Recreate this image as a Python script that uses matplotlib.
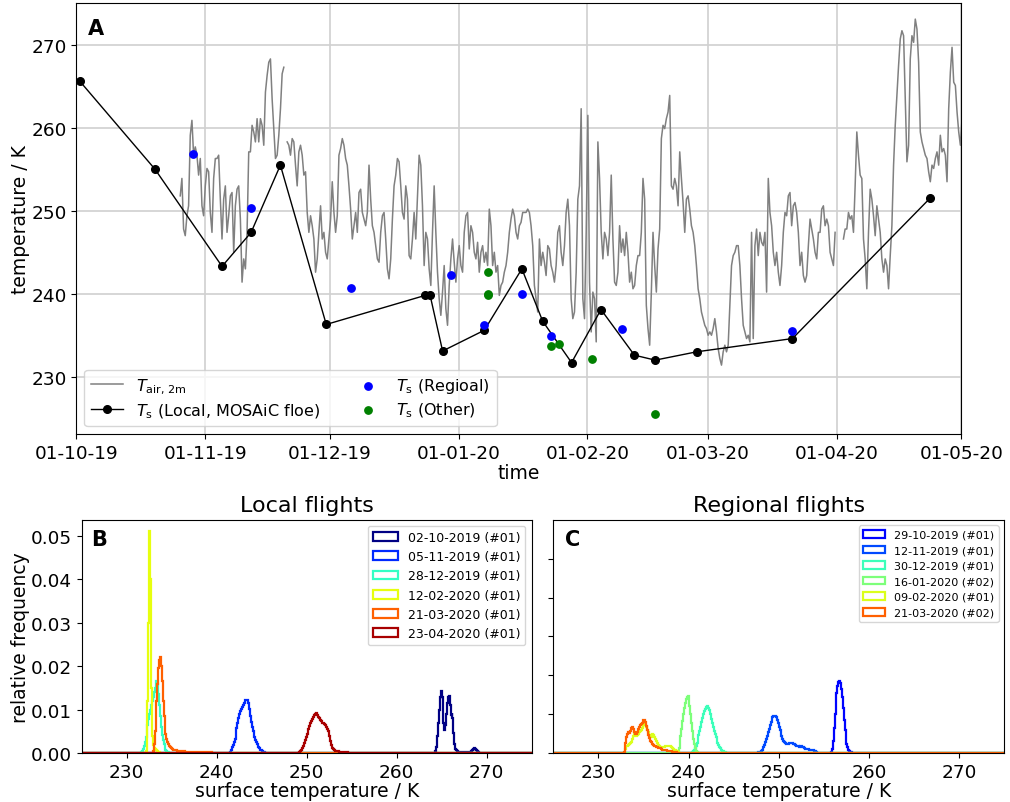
import numpy as np
import pandas as pd
import matplotlib
matplotlib.use("Agg")
import matplotlib.pyplot as plt
import matplotlib.dates as mdates

# ---------------- Panel A data ----------------
# 2 m air temperature, regular sampling starting at tair_start with step tair_step_hours
tair_start = "2019-10-25 23:30"
tair_step_hours = 9.65
tair_values = [
    251.8, 253.9, 247.8, 247.0, 249.4, 250.6, 259.1, 260.9, 256.7, 257.7,
    256.7, 254.3, 256.3, 250.6, 249.4, 253.0, 255.1, 254.7, 249.8, 247.4,
    253.9, 256.3, 256.3, 256.7, 251.4, 246.6, 251.4, 253.0, 247.4, 249.4,
    251.8, 252.2, 245.0, 250.6, 252.6, 253.0, 249.0, 241.4, 244.2, 243.0,
    247.4, 257.1, 257.1, 260.3, 259.5, 258.3, 261.1, 258.3, 261.1, 260.3,
    257.9, 264.3, 266.3, 267.9, 268.3, 263.5, 259.9, 256.3, 256.7, 259.1,
    262.3, 266.5, 267.3, np.nan, 258.3, 257.9, 256.7, 258.7, 258.3, 255.5,
    253.0, 257.1, 257.9, 256.7, 254.3, 254.7, 249.8, 247.4, 249.4, 248.2,
    246.6, 242.6, 244.2, 247.4, 250.6, 246.6, 247.4, 245.0, 244.2, 246.6,
    249.0, 253.5, 249.8, 247.4, 249.4, 256.7, 257.5, 258.7, 257.9, 256.3,
    255.5, 253.0, 250.2, 246.6, 248.2, 249.8, 247.4, 252.2, 252.6, 249.8,
    249.0, 248.2, 249.8, 255.5, 251.4, 248.2, 247.4, 245.8, 244.2, 243.8,
    247.4, 249.4, 249.8, 246.6, 243.0, 241.8, 244.2, 249.0, 253.0, 254.3,
    256.3, 255.9, 253.0, 249.8, 249.0, 253.0, 251.4, 244.6, 244.2, 246.6,
    249.8, 246.6, 251.8, 256.7, 255.5, 250.6, 243.4, 247.4, 246.6, 243.0,
    241.0, 247.4, 253.0, 247.4, 242.6, 239.4, 237.4, 240.2, 243.4, 238.2,
    236.2, 241.0, 244.2, 246.6, 243.8, 241.4, 244.2, 245.8, 243.4, 242.6,
    247.4, 249.4, 249.8, 245.4, 248.2, 247.4, 245.0, 244.2, 246.2, 242.6,
    245.0, 245.8, 243.8, 245.0, 243.4, 250.2, 248.2, 243.4, 245.0, 242.6,
    243.4, 239.8, 241.0, 241.4, 242.6, 243.4, 245.0, 247.4, 249.0, 250.2,
    249.4, 247.4, 246.6, 248.2, 248.6, 249.8, 249.8, 249.8, 250.2, 249.8,
    248.2, 245.8, 241.0, 239.4, 237.8, 246.6,
    243.4, 245.0, 243.8, 242.2, 245.8, 245.4, 243.4, 242.6, 241.4, 243.4,
    247.4, 248.2, 245.0, 243.4, 245.8, 249.8, 251.4, 248.2, 239.4, 237.0,
    237.8, 242.6, 251.4, 253.0, 262.3, 239.4, 237.0, 247.4, 261.5, 241.4,
    235.4, 240.2, 239.4, 234.2, 258.3, 253.9, 247.4, 244.2, 247.4, 246.6,
    244.6, 247.4, 254.3, 246.6, 241.4, 241.0, 242.6, 248.2, 245.0, 246.6,
    244.6, 247.4, 245.0, 241.4, 242.6, 240.6, 241.0, 243.4, 244.6, 244.6,
    247.4, 253.9, 251.4, 238.6, 235.8, 233.8, 240.2, 247.4, 243.4, 240.2,
    245.4, 247.8, 258.7, 260.3, 259.9, 261.1, 261.9, 263.9, 253.0, 252.6,
    253.9, 253.0, 250.6, 257.1, 253.9, 251.0, 247.4, 251.4, 251.8, 250.2,
    248.2, 247.4, 245.8, 243.4, 240.6, 239.4, 237.8, 237.0, 236.2, 235.8,
    235.0, 235.4, 235.0, 235.8, 237.0, 235.4, 233.4, 232.2, 231.4, 233.0,
    233.8, 233.0, 233.8, 238.6, 243.4, 244.6, 245.0, 245.8, 245.8, 243.4,
    239.4, 236.2, 235.4, 234.6, 235.0, 234.2, 247.4, 234.6, 245.8, 247.8,
    244.6, 247.4, 246.2, 245.8, 247.4, 240.2, 253.9, 249.8, 248.2, 245.0,
    243.4, 245.0, 242.6, 241.0, 243.4, 247.4, 249.8, 249.4, 251.8, 252.2,
    248.2, 250.6, 251.0, 249.8, 247.4, 243.4, 245.0, 242.2, 241.4, 242.2,
    245.8, 249.0, 247.8, 246.6, 245.0, 244.2, 247.4, 247.4, 250.2, 250.6,
    248.2, 249.0, 248.2, 245.0, 244.2, 243.4, 247.4, np.nan, np.nan, np.nan,
    np.nan, 246.6, 247.8, 247.8, 249.8, 249.0, 249.4, 247.4, 253.0, 259.5,
    256.7, 254.3, 253.9, 246.6, 244.2, 240.6, 247.4, 252.6, 251.4, 249.4,
    247.0, 250.6, 249.0, 247.4, 244.2, 242.6, 244.2, 243.4, 240.6, 244.6,
    248.2, 255.5, 260.3, 263.9, 267.5, 270.7, 271.7, 271.1, 263.5, 255.9,
    257.9, 268.3, 271.1, 270.3, 273.1, 271.9, 267.9, 259.5, 258.3, 257.5,
    256.7, 256.3, 254.7, 253.5, 255.5, 255.1, 256.3, 257.1, 255.5, 259.1,
    257.1, 257.5, 256.7, 253.5, 262.3, 266.7, 269.7, 265.5, 265.1, 261.9,
    259.5, 257.9, 261.1, 260.7,
]

# Surface temperature, local flights (MOSAiC floe)
local_dates = ["2019-10-01 20:00", "2019-10-19 22:00", "2019-11-05 01:00", "2019-11-12 01:00",
               "2019-11-19 02:00", "2019-11-30 03:00", "2019-12-23 22:00", "2019-12-25 03:00",
               "2019-12-28 03:00", "2020-01-07 04:00", "2020-01-16 05:00", "2020-01-21 05:00",
               "2020-01-28 04:00", "2020-02-04 06:00", "2020-02-12 07:00", "2020-02-17 07:00",
               "2020-02-27 06:00", "2020-03-21 08:00", "2020-04-23 10:00"]
local_ts = [265.6, 255.0, 243.3, 247.4, 255.5, 236.3, 239.8, 239.8, 233.1, 235.6,
            243.0, 236.7, 231.7, 238.1, 232.6, 232.0, 233.0, 234.6, 251.5]

# Surface temperature, regional flights
regional_dates = ["2019-10-28 23:00", "2019-11-12 01:00", "2019-12-06 02:00", "2019-12-30 05:00",
                  "2020-01-07 04:00", "2020-01-16 05:00", "2020-01-23 05:00", "2020-02-09 06:00",
                  "2020-03-21 08:00"]
regional_ts = [256.9, 250.3, 240.7, 242.3, 236.2, 240.0, 234.9, 235.7, 235.5]

# Surface temperature, other flights
other_dates = ["2020-01-08 03:00", "2020-01-08 03:00", "2020-01-08 03:00", "2020-01-23 05:00",
               "2020-01-25 06:00", "2020-02-02 04:00", "2020-02-17 07:00"]
other_ts = [242.6, 240.0, 239.8, 233.7, 233.9, 232.1, 225.5]

# ---------------- Panel B/C data (relative frequency per 0.1 K bin) ----------------
bin_width = 0.1
hist_range = (225.0, 275.0)

local_labels = ["02-10-2019 (#01)", "05-11-2019 (#01)", "28-12-2019 (#01)",
                "12-02-2020 (#01)", "21-03-2020 (#01)", "23-04-2020 (#01)"]
local_hist_dates = ["2019-10-02", "2019-11-05", "2019-12-28", "2020-02-12", "2020-03-21", "2020-04-23"]
local_hist_start = [264.3, 241.5, 231.6, 232.1, 232.9, 249.0]
local_hist_freq = [
    [0.0005, 0.0015, 0.004, 0.007, 0.010, 0.0128, 0.0143, 0.0130, 0.0100, 0.0070,
     0.0052, 0.0065, 0.0090, 0.0115, 0.0128, 0.0131, 0.0110, 0.0088, 0.0093, 0.0080,
     0.0045, 0.0020, 0.0010, 0.0006, 0.0004, 0.0002, 0.0002, 0.0002, 0.0002, 0.0002,
     0.0002, 0.0002, 0.0002, 0.0002, 0.0002, 0.0002, 0.0002, 0.0002, 0.0002, 0.0002,
     0.0004, 0.0007, 0.0010, 0.0011, 0.0009, 0.0006, 0.0004, 0.0002, 0.0001],
    [0.0003, 0.0008, 0.0013, 0.0019, 0.0026, 0.0033, 0.0045, 0.0058, 0.0070, 0.0080,
     0.0090, 0.0096, 0.0101, 0.0106, 0.0111, 0.0115, 0.0118, 0.0121, 0.0123, 0.0121,
     0.0115, 0.0102, 0.0086, 0.0072, 0.0060, 0.0050, 0.0043, 0.0037, 0.0031, 0.0026,
     0.0020, 0.0015, 0.0011, 0.0008, 0.0006, 0.0004, 0.0003, 0.0002, 0.0002, 0.0001,
     0.0001],
    [0.0002, 0.0005, 0.0010, 0.0017, 0.0026, 0.0037, 0.0050, 0.0064, 0.0078, 0.0090,
     0.0100, 0.0110, 0.0120, 0.0130, 0.0140, 0.0150, 0.0160, 0.0166, 0.0160, 0.0135,
     0.0110, 0.0085, 0.0060, 0.0042, 0.0030, 0.0020, 0.0013, 0.0008, 0.0005, 0.0003,
     0.0002, 0.0001],
    [0.0005, 0.0030, 0.0120, 0.0300, 0.0512, 0.0400, 0.0150, 0.0040, 0.0018, 0.0012,
     0.0010, 0.0008, 0.0006, 0.0004, 0.0003, 0.0002, 0.0001],
    [0.0005, 0.0020, 0.0050, 0.0085, 0.0120, 0.0160, 0.0195, 0.0215, 0.0220, 0.0200,
     0.0165, 0.0120, 0.0085, 0.0060, 0.0043, 0.0033, 0.0026, 0.0021, 0.0017, 0.0014,
     0.0012, 0.0010, 0.0009, 0.0008, 0.0007, 0.0006, 0.0006, 0.0005, 0.0005, 0.0004,
     0.0004, 0.0004, 0.0004, 0.0004, 0.0004, 0.0004, 0.0003, 0.0003, 0.0003, 0.0003,
     0.0003, 0.0003, 0.0003, 0.0003, 0.0003, 0.0003, 0.0002, 0.0002, 0.0002, 0.0002,
     0.0002, 0.0002, 0.0002, 0.0002, 0.0002, 0.0002, 0.0002, 0.0002, 0.0002, 0.0002,
     0.0002, 0.0002, 0.0002, 0.0002, 0.0002, 0.0002, 0.0001, 0.0001, 0.0001, 0.0001,
     0.0001, 0.0001, 0.0001, 0.0001, 0.0001, 0.0001, 0.0001, 0.0001, 0.0001, 0.0001],
    [0.0001, 0.0002, 0.0003, 0.0005, 0.0008, 0.0011, 0.0016, 0.0022, 0.0029, 0.0036,
     0.0043, 0.0050, 0.0056, 0.0062, 0.0068, 0.0074, 0.0079, 0.0084, 0.0087, 0.0089,
     0.0091, 0.0090, 0.0087, 0.0083, 0.0080, 0.0077, 0.0073, 0.0070, 0.0068, 0.0066,
     0.0064, 0.0062, 0.0060, 0.0056, 0.0050, 0.0040, 0.0028, 0.0018, 0.0012, 0.0009,
     0.0007, 0.0006, 0.0005, 0.0005, 0.0004, 0.0004, 0.0003, 0.0003, 0.0003, 0.0003,
     0.0003, 0.0002, 0.0002, 0.0002, 0.0002, 0.0002],
]

regional_labels = ["29-10-2019 (#01)", "12-11-2019 (#01)", "30-12-2019 (#01)",
                   "16-01-2020 (#02)", "09-02-2020 (#01)", "21-03-2020 (#02)"]
regional_hist_dates = ["2019-10-29", "2019-11-12", "2019-12-30", "2020-01-16", "2020-02-09", "2020-03-21"]
regional_hist_start = [255.8, 247.5, 240.4, 238.7, 232.9, 232.8]
regional_hist_freq = [
    [0.0002, 0.0010, 0.0030, 0.0065, 0.0100, 0.0130, 0.0155, 0.0172, 0.0182, 0.0185,
     0.0180, 0.0165, 0.0145, 0.0115, 0.0085, 0.0058, 0.0038, 0.0024, 0.0015, 0.0009,
     0.0005, 0.0003, 0.0002, 0.0001],
    [0.0001, 0.0001, 0.0002, 0.0002, 0.0003, 0.0005, 0.0007, 0.0010, 0.0015, 0.0021,
     0.0028, 0.0036, 0.0045, 0.0053, 0.0062, 0.0071, 0.0080, 0.0087, 0.0092, 0.0095,
     0.0096, 0.0096, 0.0092, 0.0085, 0.0077, 0.0068, 0.0059, 0.0050, 0.0043, 0.0037,
     0.0032, 0.0028, 0.0025, 0.0023, 0.0023, 0.0024, 0.0026, 0.0027, 0.0027, 0.0026,
     0.0025, 0.0024, 0.0022, 0.0020, 0.0019, 0.0018, 0.0017, 0.0016, 0.0016, 0.0017,
     0.0017, 0.0016, 0.0015, 0.0013, 0.0011, 0.0010, 0.0010, 0.0010, 0.0009, 0.0009,
     0.0009, 0.0009, 0.0009, 0.0008, 0.0006, 0.0004, 0.0002],
    [0.0002, 0.0005, 0.0009, 0.0014, 0.0019, 0.0027, 0.0036, 0.0046, 0.0056, 0.0068,
     0.0080, 0.0091, 0.0100, 0.0108, 0.0114, 0.0118, 0.0120, 0.0119, 0.0116, 0.0110,
     0.0100, 0.0088, 0.0076, 0.0066, 0.0056, 0.0048, 0.0040, 0.0033, 0.0027, 0.0021,
     0.0016, 0.0012, 0.0009, 0.0006, 0.0004, 0.0003, 0.0002, 0.0001, 0.0001],
    [0.0002, 0.0006, 0.0014, 0.0027, 0.0043, 0.0062, 0.0082, 0.0100, 0.0116, 0.0129,
     0.0139, 0.0145, 0.0146, 0.0138, 0.0122, 0.0100, 0.0078, 0.0056, 0.0037, 0.0022,
     0.0012, 0.0006, 0.0003, 0.0001],
    [0.0003, 0.0010, 0.0017, 0.0019, 0.0020, 0.0022, 0.0025, 0.0028, 0.0035, 0.0045,
     0.0052, 0.0053, 0.0048, 0.0045, 0.0047, 0.0050, 0.0053, 0.0056, 0.0060, 0.0065,
     0.0070, 0.0075, 0.0076, 0.0072, 0.0066, 0.0060, 0.0053, 0.0046, 0.0041, 0.0040,
     0.0045, 0.0049, 0.0046, 0.0040, 0.0035, 0.0030, 0.0025, 0.0021, 0.0018, 0.0016,
     0.0015, 0.0015, 0.0015, 0.0016, 0.0016, 0.0017, 0.0018, 0.0019, 0.0019, 0.0019,
     0.0018, 0.0017, 0.0015, 0.0013, 0.0011, 0.0009, 0.0007, 0.0005, 0.0004, 0.0002,
     0.0001],
    [0.0002, 0.0010, 0.0025, 0.0040, 0.0050, 0.0054, 0.0052, 0.0057, 0.0064, 0.0066,
     0.0062, 0.0057, 0.0054, 0.0050, 0.0049, 0.0055, 0.0063, 0.0068, 0.0072, 0.0075,
     0.0078, 0.0082, 0.0085, 0.0086, 0.0080, 0.0070, 0.0058, 0.0047, 0.0038, 0.0032,
     0.0028, 0.0025, 0.0023, 0.0021, 0.0019, 0.0018, 0.0016, 0.0015, 0.0014, 0.0013,
     0.0012, 0.0011, 0.0010, 0.0009, 0.0008, 0.0008, 0.0007, 0.0007, 0.0006, 0.0006,
     0.0005, 0.0005, 0.0004, 0.0004, 0.0003, 0.0003, 0.0002, 0.0002, 0.0002, 0.0001,
     0.0001],
]

season_start = "2019-10-01"
season_end = "2020-05-01"

# ---------------- Figure ----------------
plt.rcParams['font.family'] = ['DejaVu Sans']
fig = plt.figure(figsize=(10.10, 8.03), dpi=100)

axA = fig.add_axes([0.0757, 0.4583, 0.8762, 0.5363])
axB = fig.add_axes([0.0809, 0.0610, 0.4455, 0.2905])
axC = fig.add_axes([0.5478, 0.0610, 0.4465, 0.2905])

TICK_FS = 13.3
LABEL_FS = 13.5

# Panel A
tair_time = pd.date_range(pd.Timestamp(tair_start), periods=len(tair_values),
                          freq=pd.Timedelta(hours=tair_step_hours))
axA.plot(tair_time, tair_values, color='#808080', lw=1.1, label=r'$T_{\mathrm{air,\,2m}}$', zorder=2)
axA.plot(pd.to_datetime(local_dates), local_ts, color='black', lw=1.0, marker='o', ms=5.5,
         label=r'$T_{\mathrm{s}}$ (Local, MOSAiC floe)', zorder=4)
axA.scatter(pd.to_datetime(regional_dates), regional_ts, color='blue', s=28, zorder=5,
            label=r'$T_{\mathrm{s}}$ (Regioal)')
axA.scatter(pd.to_datetime(other_dates), other_ts, color='green', s=28, zorder=5,
            label=r'$T_{\mathrm{s}}$ (Other)')

axA.set_xlim(pd.Timestamp(season_start), pd.Timestamp(season_end))
axA.set_ylim(223.1, 275.0)
axA.set_yticks([230, 240, 250, 260, 270])
axA.xaxis.set_major_locator(mdates.MonthLocator())
axA.xaxis.set_major_formatter(mdates.DateFormatter('%d-%m-%y'))
axA.grid(True, color='#d0d0d0', lw=1.2, zorder=0)
axA.set_axisbelow(True)
axA.tick_params(labelsize=TICK_FS)
axA.set_xlabel('time', fontsize=LABEL_FS, labelpad=1)
axA.set_ylabel('temperature / K', fontsize=LABEL_FS, labelpad=1)
axA.legend(loc='lower left', ncol=2, fontsize=11.5, framealpha=0.8, labelspacing=0.35)
axA.text(0.0127, 0.967, 'A', transform=axA.transAxes, fontsize=15, fontweight='bold',
         va='top', ha='left')

# Panels B and C
edges = np.round(np.arange(hist_range[0], hist_range[1] + bin_width / 2, bin_width), 2)
t0 = pd.Timestamp(season_start)
span = (pd.Timestamp(season_end) - t0).total_seconds()
cmap = plt.get_cmap('jet')


def draw_hists(ax, labels, dates, starts, freqs, legend_fs):
    for lab, d, st, fr in zip(labels, dates, starts, freqs):
        frac = (pd.Timestamp(d) - t0).total_seconds() / span
        centers = st + bin_width / 2 + bin_width * np.arange(len(fr))
        ax.hist(centers, bins=edges, weights=fr, histtype='step', lw=1.6,
                color=cmap(frac), label=lab)
    ax.set_xlim(hist_range)
    ax.set_xticks([230, 240, 250, 260, 270])
    ax.tick_params(labelsize=TICK_FS)
    ax.set_xlabel('surface temperature / K', fontsize=LABEL_FS, labelpad=0)
    ax.legend(loc='upper right', fontsize=legend_fs)


draw_hists(axB, local_labels, local_hist_dates, local_hist_start, local_hist_freq, 9)
axB.set_ylim(0, 0.0537)
axB.set_yticks([0.0, 0.01, 0.02, 0.03, 0.04, 0.05])
axB.yaxis.set_major_formatter(matplotlib.ticker.FormatStrFormatter('%.2f'))
axB.set_ylabel('relative frequency', fontsize=LABEL_FS, labelpad=0.5)
axB.set_title('Local flights', fontsize=16)
axB.text(0.022, 0.96, 'B', transform=axB.transAxes, fontsize=15, fontweight='bold',
         va='top', ha='left')

draw_hists(axC, regional_labels, regional_hist_dates, regional_hist_start, regional_hist_freq, 8)
axC.set_ylim(0, 0.06)
axC.set_yticks([0.0, 0.01, 0.02, 0.03, 0.04, 0.05])
axC.tick_params(labelleft=False)
axC.set_title('Regional flights', fontsize=16)
axC.text(0.026, 0.96, 'C', transform=axC.transAxes, fontsize=15, fontweight='bold',
         va='top', ha='left')

fig.savefig('out.png', dpi=100)
